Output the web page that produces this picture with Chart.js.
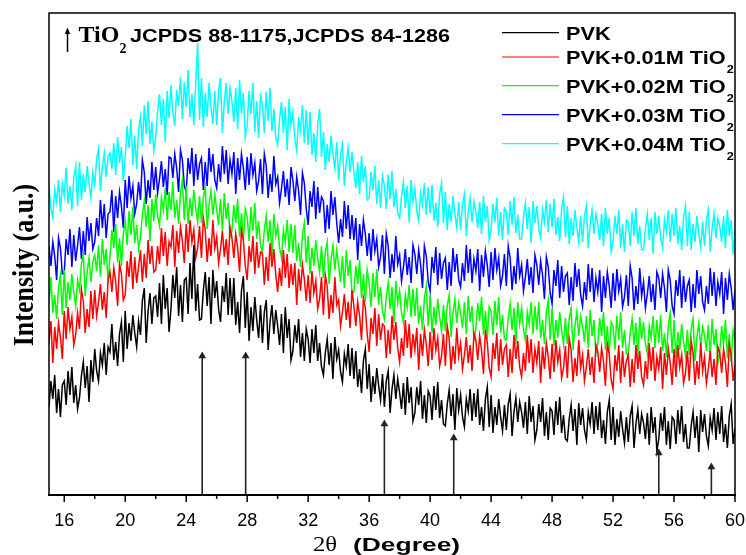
<!DOCTYPE html>
<html><head><meta charset="utf-8">
<script src="https://cdn.jsdelivr.net/npm/chart.js@4.4.1/dist/chart.umd.min.js"></script>
<style>html,body{margin:0;padding:0;background:#fff;}#wrap{width:746px;height:555px;}</style>
</head><body><div id="wrap"><canvas id="c" width="746" height="555"></canvas></div>
<script>
// 2θ sampling grid (degrees)
const twoThetaStart = 15;
const twoThetaStep = 0.125;

// Intensity (a.u.), one value per 0.125°
const pvk = [88,114,96,120,82,106,78,110,114,90,124,100,128,92,110,86,97,119,133,107,129,93,135,113,146,124,114,142,130,152,120,148,143,171,135,153,129,161,173,133,184,146,172,154,180,162,148,174,160,194,207,152,184,202,171,197,199,178,212,171,220,186,207,163,186,220,197,228,179,210,173,215,217,181,232,196,250,184,211,175,176,205,223,189,218,171,225,197,214,186,173,209,193,222,180,217,180,217,170,193,162,204,219,167,203,154,188,164,198,175,157,190,152,183,195,145,173,190,161,185,169,150,181,142,188,157,176,135,144,170,152,176,138,162,134,166,156,132,166,142,170,134,152,128,120,142,156,130,152,116,158,136,145,123,113,141,129,151,119,147,116,144,108,126,102,134,146,106,131,93,119,101,127,109,95,121,88,114,124,82,106,120,96,116,102,86,112,80,118,92,108,74,82,108,90,114,76,100,72,104,99,75,109,85,113,77,95,71,69,91,105,79,101,65,107,85,100,78,68,96,84,106,74,102,78,106,70,88,64,96,108,68,100,62,88,70,96,78,64,90,65,91,101,59,83,97,73,93,83,67,93,61,99,73,89,55,65,91,73,97,59,83,55,87,84,60,94,70,98,62,80,56,54,76,90,64,86,50,92,70,87,65,55,83,71,93,61,89,65,93,57,75,51,83,95,55,88,50,76,58,84,66,52,78,53,79,89,47,71,85,61,81,72,56,82,50,88,62,78,44,56,82,64,88,50,74,46,78,75,51,85,61,89,53,71,47,47,69,83,57,79,43,85,63,81,59,49,77,65,87,55,83,61,89,53,71,47,79,91,51,67];
const tio001 = [152,174,132,168,146,172,158,136,184,156,188,166,178,150,160,182,166,206,194,162,186,168,204,176,205,179,193,211,185,203,177,215,223,203,227,213,189,231,221,195,200,234,218,244,206,238,212,228,245,213,241,217,255,231,249,223,225,249,231,267,239,263,229,253,248,270,228,264,242,268,254,232,271,243,275,253,265,237,247,269,237,277,265,233,257,239,275,247,258,232,246,264,238,256,230,268,257,237,261,247,223,265,255,229,215,249,233,259,221,253,227,243,242,210,238,214,252,228,246,220,203,227,209,245,217,241,207,231,210,232,190,226,204,230,216,194,220,192,224,202,214,186,196,218,180,220,208,176,200,182,218,190,195,169,183,201,175,193,167,205,189,169,193,179,155,197,187,161,143,177,161,187,149,181,155,171,169,137,165,141,179,155,173,147,133,157,139,175,147,171,137,161,145,167,125,161,139,165,151,129,163,135,167,145,157,129,139,161,129,169,157,125,149,131,167,139,152,126,140,158,132,150,124,162,155,135,159,145,121,163,153,127,118,152,136,162,124,156,130,146,150,118,146,122,160,136,154,128,118,142,124,160,132,156,122,146,132,154,112,148,126,152,138,116,151,123,155,133,145,117,127,149,117,157,145,113,137,119,155,127,140,114,128,146,120,138,112,150,143,123,147,133,109,151,141,115,106,140,124,150,112,144,118,134,140,108,136,112,150,126,144,118,110,134,116,152,124,148,114,138,126,148,106,142,120,146,132,110,146,118,150,128,140,112,122,144,114,154,142,110,134,116,152,124,138,112,126,144,118,136,110,148,142,122,146,132,108,150,140,114,130];
const tio002 = [190,218,182,200,176,208,220,180,225,187,213,195,221,203,189,215,205,231,241,199,223,237,213,233,240,224,250,218,256,230,246,212,239,265,247,271,233,257,229,261,274,250,284,260,288,252,270,246,258,280,294,268,290,254,296,274,301,279,269,297,285,307,275,303,285,313,277,295,271,303,315,275,309,271,297,279,305,287,273,299,272,298,308,266,290,304,280,300,286,270,296,264,302,276,292,258,264,290,272,296,258,282,254,286,278,254,288,264,292,256,274,250,243,265,279,253,275,239,281,259,269,247,237,265,253,275,243,271,242,270,234,252,228,260,272,232,259,221,247,229,255,237,223,249,217,243,253,211,235,249,225,245,229,213,239,207,245,219,235,201,203,229,211,235,197,221,193,225,212,188,222,198,226,190,208,184,176,198,212,186,208,172,214,192,204,182,172,200,188,210,178,206,179,207,171,189,165,197,209,169,200,162,188,170,196,178,164,190,164,190,200,158,182,196,172,192,183,167,193,161,199,173,189,155,166,192,174,198,160,184,156,188,184,160,194,170,198,162,180,156,155,177,191,165,187,151,193,171,187,165,155,183,171,193,161,189,165,193,157,175,151,183,195,155,187,149,175,157,183,165,151,177,151,177,187,145,169,183,159,179,169,153,179,147,185,159,175,141,151,177,159,183,145,169,141,173,169,145,179,155,183,147,165,141,140,162,176,150,172,136,178,156,173,151,141,169,157,179,147,175,152,180,144,162,138,170,182,142,175,137,163,145,171,153,139,165,140,166,176,134,158,172,148,168,160,144,170,138,176,150,166,132,143,169,151,175,137,161,133,165,155];
const tio003 = [249,229,253,239,215,257,247,221,222,256,240,266,228,260,234,250,268,236,264,240,278,254,272,246,253,277,259,295,267,291,257,281,283,305,263,299,277,303,289,267,315,287,319,297,309,281,291,313,295,335,323,291,315,297,333,305,328,302,316,334,308,326,300,338,337,317,341,327,303,345,335,309,303,337,321,347,309,341,315,331,337,305,333,309,347,323,341,315,307,331,313,349,321,345,311,335,321,343,301,337,315,341,327,305,338,310,342,320,332,304,314,336,301,341,329,297,321,303,339,311,318,292,306,324,298,316,290,328,314,294,318,304,280,322,312,286,270,304,288,314,276,308,282,298,294,262,290,266,304,280,298,272,252,276,258,294,266,290,256,280,255,277,235,271,249,275,261,239,262,234,266,244,256,228,238,260,221,261,249,217,241,223,259,231,240,214,228,246,220,238,212,250,241,221,245,231,207,249,239,213,204,238,222,248,210,242,216,232,237,205,233,209,247,223,241,215,208,232,214,250,222,246,212,236,224,246,204,240,218,244,230,208,243,215,247,225,237,209,219,241,209,249,237,205,229,211,247,219,230,204,218,236,210,228,202,240,230,210,234,220,196,238,228,202,191,225,209,235,197,229,203,219,222,190,218,194,232,208,226,200,189,213,195,231,203,227,193,217,203,225,183,219,197,223,209,187,222,194,226,204,216,188,198,220,189,229,217,185,209,191,227,199,213,187,201,219,193,211,185,223,217,197,221,207,183,225,215,189,181,215,199,225,187,219,193,209,215,183,211,187,225,201,219,193,185,209,191,227,199,223,189,213,201,223,181,217,195,221,207,185,205];
const tio004 = [309,287,277,305,293,315,283,311,299,327,291,309,285,317,329,289,333,295,321,303,329,311,297,323,310,336,346,304,328,342,318,338,342,326,352,320,358,332,348,314,338,369,347,376,330,359,326,364,378,349,390,361,394,351,373,344,358,384,401,370,396,353,404,377,410,382,369,405,389,418,376,413,388,425,378,401,370,412,452,375,417,368,402,378,412,389,371,404,370,404,417,362,394,412,381,407,394,373,407,366,415,381,402,358,370,404,381,412,363,394,357,399,391,362,403,374,407,364,386,357,350,376,393,362,388,345,396,369,383,356,344,378,364,390,352,385,350,383,340,362,333,371,386,338,363,325,351,333,359,341,327,353,315,341,351,309,333,347,323,343,323,307,333,301,339,313,329,295,297,323,305,329,291,315,287,319,310,286,320,296,324,288,306,282,277,299,313,287,309,273,315,293,306,284,274,302,290,312,280,308,282,310,274,292,268,300,312,272,303,265,291,273,299,281,267,293,265,291,301,259,283,297,273,293,283,267,293,261,299,273,289,255,265,291,273,297,259,283,255,287,284,260,294,270,298,262,280,256,256,278,292,266,288,252,294,272,289,267,257,285,273,295,263,291,268,296,260,278,254,286,298,258,289,251,277,259,285,267,253,279,253,279,289,247,271,285,261,281,271,255,281,249,287,261,277,243,253,279,261,285,247,271,243,275,273,249,283,259,287,251,269,245,245,267,281,255,277,241,283,261,279,257,247,275,263,285,253,281,259,287,251,269,245,277,289,249,283,245,271,253,279,261,247,273,249,275,285,243,267,281,257,277,269,253,279,247,285,259,275,241,265];

const seriesLabels = ['PVK', 'PVK+0.01M TiO', 'PVK+0.02M TiO', 'PVK+0.03M TiO', 'PVK+0.04M TiO'];
const seriesSubs = ['', '2', '2', '2', '2'];
const seriesColors = ['#000000', '#ff0000', '#00ff00', '#0000ff', '#00ffff'];

// TiO2 reference (JCPDS) marker positions and arrow heights
const refPeaks = [25.05, 27.9, 37.0, 41.55, 55.0, 58.45];
const refHeights = [139, 139, 71, 57, 42, 28];

// x-axis ticks
const xTickValues = [16,18,20,22,24,26,28,30,32,34,36,38,40,42,44,46,48,50,52,54,56,58,60];
const xTickLabels = [16,20,24,28,32,36,40,44,48,52,56,60];

const allSeries = [pvk, tio001, tio002, tio003, tio004];
const datasets = allSeries.map((arr, k) => ({
  label: seriesLabels[k] + seriesSubs[k],
  data: arr.map((v, i) => ({x: twoThetaStart + i * twoThetaStep, y: v})),
  borderColor: seriesColors[k],
  borderWidth: 1.5,
  pointRadius: 0,
  fill: false,
  tension: 0
}));
refPeaks.forEach((p, k) => {
  datasets.push({
    label: 'ref' + k,
    data: [{x: p, y: 0}, {x: p, y: refHeights[k]}],
    borderColor: '#222',
    borderWidth: 1.6,
    pointRadius: [0, 4.5],
    pointStyle: 'triangle',
    pointBackgroundColor: '#222',
    pointBorderColor: '#222',
    pointBorderWidth: 0,
    fill: false,
    order: -1
  });
});

const SANS = '"Liberation Sans", Arial, sans-serif';
const SERIF = '"Liberation Serif", "Times New Roman", serif';

function sText(ctx, text, x, y, font, sx) {
  ctx.save();
  ctx.font = font;
  ctx.translate(x, y);
  ctx.scale(sx, 1);
  ctx.fillText(text, 0, 0);
  const w = ctx.measureText(text).width * sx;
  ctx.restore();
  return w;
}

const decor = {
  id: 'decor',
  afterDraw(chart) {
    const ctx = chart.ctx;
    const a = chart.chartArea;
    const xs = chart.scales.x;
    ctx.save();
    ctx.strokeStyle = '#000';
    ctx.fillStyle = '#000';
    ctx.lineWidth = 1.5;
    ctx.beginPath();
    ctx.moveTo(a.left, a.bottom); ctx.lineTo(a.left, a.top); ctx.lineTo(a.right, a.top); ctx.lineTo(a.right, a.bottom);
    ctx.stroke();
    ctx.lineWidth = 2;
    ctx.beginPath(); ctx.moveTo(a.left - 1, a.bottom); ctx.lineTo(a.right + 1, a.bottom); ctx.stroke();
    ctx.lineWidth = 1.5;
    xTickValues.forEach(v => {
      const px = xs.getPixelForValue(v);
      const len = xTickLabels.includes(v) ? 7 : 4;
      ctx.beginPath(); ctx.moveTo(px, a.bottom); ctx.lineTo(px, a.bottom + len); ctx.stroke();
    });
    // annotation
    ctx.beginPath(); ctx.moveTo(67.5, 52); ctx.lineTo(67.5, 32); ctx.stroke();
    ctx.beginPath(); ctx.moveTo(67.5, 27.5); ctx.lineTo(64.8, 34); ctx.lineTo(70.2, 34); ctx.closePath(); ctx.fill();
    ctx.textBaseline = 'alphabetic';
    ctx.textAlign = 'left';
    const w1 = sText(ctx, 'TiO', 78.5, 42, 'bold 24px ' + SERIF, 1.0);
    sText(ctx, '2', 78.5 + w1, 53, 'bold 14px ' + SERIF, 1.0);
    sText(ctx, 'JCPDS 88-1175,JCPDS 84-1286', 130, 42, 'bold 18.5px ' + SANS, 1.17);
    // legend
    const ly = [32.7, 57, 85.7, 114.7, 143.7];
    seriesLabels.forEach((lab, i) => {
      ctx.strokeStyle = seriesColors[i];
      ctx.lineWidth = 1.2;
      ctx.beginPath(); ctx.moveTo(502, ly[i]); ctx.lineTo(559, ly[i]); ctx.stroke();
      ctx.fillStyle = '#000';
      const w = sText(ctx, lab, 566, ly[i] + 7, 'bold 18.5px ' + SANS, 1.175);
      if (seriesSubs[i]) sText(ctx, seriesSubs[i], 566 + w + 1, ly[i] + 16, 'bold 11.5px ' + SANS, 1.1);
    });
    // y title
    ctx.save();
    ctx.translate(33, 265);
    ctx.rotate(-Math.PI / 2);
    ctx.scale(1, 1.17);
    ctx.font = 'bold 26px ' + SERIF;
    ctx.textAlign = 'center';
    ctx.textBaseline = 'alphabetic';
    ctx.fillText('Intensity (a.u.)', 0, 0);
    ctx.restore();
    // x title
    sText(ctx, '2\u03B8', 313, 551, '22px ' + SERIF, 1.12);
    sText(ctx, '(Degree)', 353, 551, 'bold 19px ' + SANS, 1.39);
    ctx.restore();
  }
};

new Chart(document.getElementById('c'), {
  type: 'line',
  data: { datasets },
  options: {
    responsive: false,
    animation: false,
    devicePixelRatio: 1,
    layout: { padding: { top: 13, right: 11, left: 0, bottom: 0 } },
    plugins: { legend: { display: false }, tooltip: { enabled: false } },
    scales: {
      x: {
        type: 'linear', min: 15, max: 60,
        afterBuildTicks: s => { s.ticks = xTickValues.map(v => ({ value: v })); },
        afterFit: s => { s.height = 60; s.paddingLeft = 0; s.paddingRight = 0; },
        ticks: {
          autoSkip: false, maxRotation: 0, minRotation: 0, padding: 15, color: '#000',
          font: { family: SANS, size: 18 },
          callback: v => xTickLabels.includes(v) ? String(v) : ''
        },
        grid: { display: false, drawTicks: false },
        border: { display: false }
      },
      y: {
        min: 0, max: 482,
        afterFit: s => { s.width = 49; s.paddingTop = 0; s.paddingBottom = 0; },
        ticks: { display: false },
        grid: { display: false, drawTicks: false },
        border: { display: false }
      }
    }
  },
  plugins: [decor]
});
</script></body></html>
